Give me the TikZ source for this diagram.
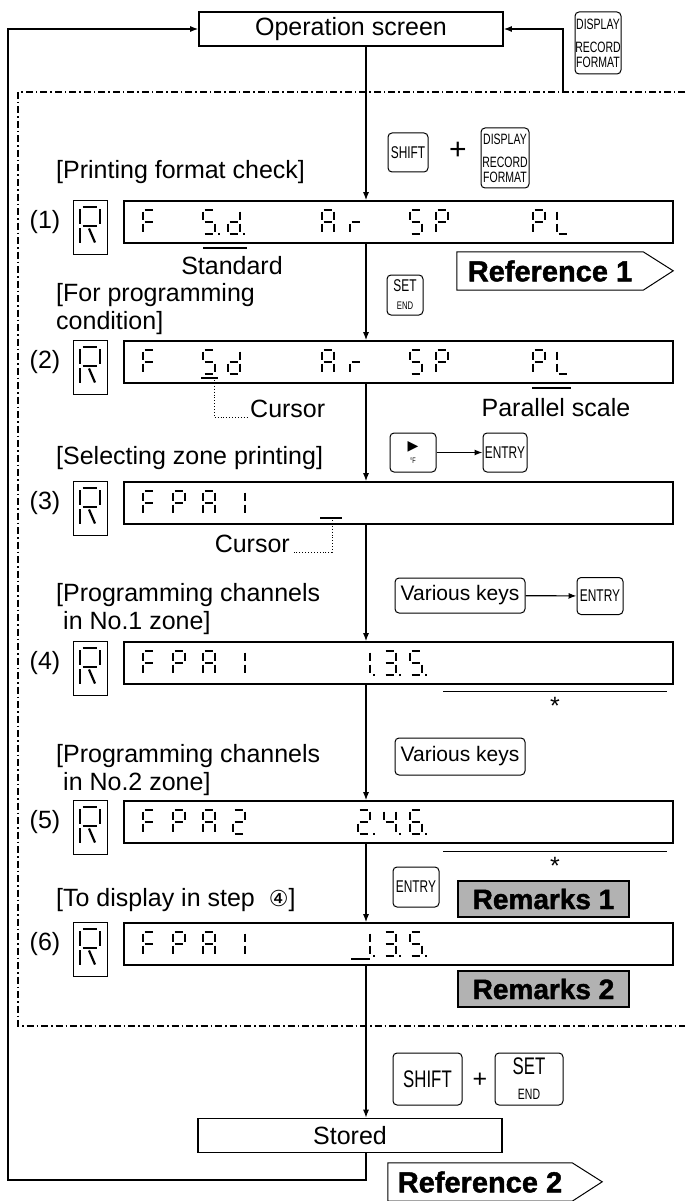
\documentclass[tikz,border=0pt]{standalone}
\usepackage{fontspec}
\setmainfont{Liberation Sans}[BoldFeatures={FakeBold=1.5}]
\newfontfamily\keyfont{Liberation Sans}[FakeStretch=0.7]
\newfontfamily\symfont{DejaVu Sans}
\usetikzlibrary{arrows.meta,positioning}
\definecolor{RemGray}{HTML}{B2B2B2}

% seven segment pieces, cell 10 x 20
\tikzset{segline/.style={line width=2.2pt},
  seg a/.pic={\draw[segline] (1.3,0)--(8.7,0);},
  seg b/.pic={\draw[segline] (10,1.3)--(10,8.7);},
  seg c/.pic={\draw[segline] (10,11.3)--(10,18.7);},
  seg d/.pic={\draw[segline] (1.3,20)--(8.7,20);},
  seg e/.pic={\draw[segline] (0,11.3)--(0,18.7);},
  seg f/.pic={\draw[segline] (0,1.3)--(0,8.7);},
  seg g/.pic={\draw[segline] (1.3,10)--(8.7,10);},
  seg k/.pic={\draw[segline] (4.5,11.3)--(7.5,18.7);},
  seg p/.pic={\fill (12.2,18.8) rectangle (14.2,20.6);}}
\newcommand{\lcdF}{a,f,g,e}
\newcommand{\lcdS}{a,f,g,c,d}
\newcommand{\lcdd}{b,c,d,e,g}
\newcommand{\lcdA}{a,b,c,e,f,g}
\newcommand{\lcdr}{e,g}
\newcommand{\lcdP}{a,b,f,g,e}
\newcommand{\lcdL}{f,e,d}
\newcommand{\lcdone}{b,c}
\newcommand{\lcdtwo}{a,b,g,e,d}
\newcommand{\lcdthree}{a,b,g,c,d}
\newcommand{\lcdfour}{f,g,b,c}
\newcommand{\lcdsix}{a,f,g,e,c,d}
\newcommand{\lcdR}{a,b,f,g,e,k}
\newcommand{\lcd}[4][scale=1.2]{\edef\lcdlist{#4}\foreach \s in \lcdlist {\pic[#1] at (#2,#3) {seg \s};}}

\begin{document}
\begin{tikzpicture}[x=1pt,y=-1pt,font=\fontsize{25}{28}\selectfont,
a/.style={-{Latex[length=8pt,width=6pt]},line width=1.2pt},
scrbox/.style={draw,line width=1.6pt,minimum width=304pt,minimum height=34pt},
panel/.style={draw,line width=1.6pt,minimum width=549pt,minimum height=42pt,inner sep=0pt},
rbox/.style={draw,line width=1pt,minimum width=34pt,minimum height=54pt,inner sep=0pt},
key/.style={draw,rounded corners=4pt,line width=1pt,inner sep=0pt,align=center,font=\keyfont\fontsize{15}{15}\selectfont},
lbl/.style={anchor=west,inner sep=0pt,align=left},
lead/.style={dotted,line width=0.9pt},
bar/.style={line width=1.6pt},
rem/.style={draw,line width=1.4pt,fill=RemGray,minimum width=171pt,minimum height=36pt,font=\bfseries\fontsize{28}{28}\selectfont},
reftext/.style={inner sep=0pt,minimum height=38pt,font=\bfseries\fontsize{29}{29}\selectfont},
dashframe/.style={line width=1.2pt,dash pattern=on 7pt off 3pt on 1.5pt off 3pt}]
\useasboundingbox (0,0) rectangle (685,1201);

% frame of the setting steps
\draw[dashframe] (685,92) -- (18,92) -- (18,1026) -- (685,1026);

\node[scrbox] (opscr) at (351,29) {Operation screen};
\node[key,minimum width=46pt,minimum height=62pt,font=\keyfont\fontsize{15}{15}\selectfont] (disp1) at (598,43) {DISPLAY\\[8pt]RECORD\\FORMAT};
\coordinate (esc) at (563,92);
\coordinate (mid) at (366,0);
\coordinate (loop) at (8,1180);

% keys
\node[key,minimum width=40pt,minimum height=39pt,font=\keyfont\fontsize{17}{17}\selectfont] (shift1) at (408,152.5) {SHIFT};
\node[font=\fontsize{30}{30}\selectfont] (plus1) at (458,151) {+};
\node[key,minimum width=48pt,minimum height=60pt] (disp2) at (505,158) {DISPLAY\\[8pt]RECORD\\FORMAT};
\node[key,minimum width=36pt,minimum height=40pt,font=\keyfont\fontsize{17}{17}\selectfont] (set1) at (405,295) {SET\\[1pt]{\fontsize{11}{11}\selectfont END}};
\node[key,minimum width=46pt,minimum height=39pt] (fkey) at (413,452.5) {{\symfont\fontsize{14}{14}\selectfont ▶}\\[-2pt]{\fontsize{8}{8}\selectfont °F}};
\node[key,minimum width=44pt,minimum height=39pt,font=\keyfont\fontsize{17}{17}\selectfont] (ent1) at (505,452.5) {ENTRY};
\node[key,minimum width=130pt,minimum height=35pt,font=\fontsize{21}{21}\selectfont] (var1) at (460,595.5) {Various keys};
\node[key,minimum width=46pt,minimum height=37pt,font=\keyfont\fontsize{17}{17}\selectfont] (ent2) at (600,596) {ENTRY};
\node[key,minimum width=130pt,minimum height=37pt,font=\fontsize{21}{21}\selectfont] (var2) at (460,756.5) {Various keys};
\node[key,minimum width=46pt,minimum height=40pt,font=\keyfont\fontsize{17}{17}\selectfont] (ent3) at (416,887) {ENTRY};
\node[key,minimum width=69pt,minimum height=52pt,font=\keyfont\fontsize{24}{24}\selectfont] (shift2) at (427.5,1079) {SHIFT};
\node (plus2) at (480,1080) {+};
\node[key,minimum width=68pt,minimum height=52pt,font=\keyfont\fontsize{24}{24}\selectfont] (set2) at (529,1079) {SET\\[1pt]{\fontsize{15}{15}\selectfont END}};
\draw[a] (fkey) -- (ent1);
\draw[a] (var1) -- (ent2);

% step labels
\node[lbl] (t1) at (56,172) {[Printing format check]};
\node[lbl] (t2) at (56,309) {[For programming\\condition]};
\node[lbl] (t3) at (56,458) {[Selecting zone printing]};
\node[lbl] (t4) at (56,609) {[Programming channels\\\hspace*{7pt}in No.1 zone]};
\node[lbl] (t5) at (56,770) {[Programming channels\\\hspace*{7pt}in No.2 zone]};
\node[lbl] (t6) at (56,900) {[To display in step \ {\symfont\fontsize{22}{22}\selectfont ④}]};

% displays
\foreach \n/\y in {1/222,2/362,3/503,4/663,5/822,6/944} {
  \node[panel] (p\n) at (398.5,\y) {};
  \node[rbox] (r\n) at (90,\y+5) {};
  \node (n\n) at (45,\y) {(\n)};
  \lcd[xscale=2.0,yscale=1.9]{80}{\y-15}{\lcdR}
}
\foreach \x/\c in {143/\lcdF,203/{\lcdS,p},228/{\lcdd,p},322/\lcdA,350/\lcdr,410/\lcdS,436/\lcdP,533/\lcdP,557/\lcdL} {\lcd{\x}{210}{\c}}
\foreach \x/\c in {143/\lcdF,203/\lcdS,228/\lcdd,322/\lcdA,350/\lcdr,410/\lcdS,436/\lcdP,533/\lcdP,557/\lcdL} {\lcd{\x}{350}{\c}}
\foreach \x/\c in {143/\lcdF,173/\lcdP,203/\lcdA,233/\lcdone} {\lcd{\x}{491}{\c}}
\foreach \x/\c in {143/\lcdF,173/\lcdP,203/\lcdA,233/\lcdone,358/{\lcdone,p},384/{\lcdthree,p},410/{\lcdS,p}} {\lcd{\x}{651}{\c}}
\foreach \x/\c in {143/\lcdF,173/\lcdP,203/\lcdA,233/\lcdtwo,358/{\lcdtwo,p},384/{\lcdfour,p},410/{\lcdsix,p}} {\lcd{\x}{810}{\c}}
\foreach \x/\c in {143/\lcdF,173/\lcdP,203/\lcdA,233/\lcdone,358/{\lcdone,p},384/{\lcdthree,p},410/{\lcdS,p}} {\lcd{\x}{932}{\c}}

% marks under the displays
\draw[bar] (203,248) -- (247,248);
\node (std) at (232,266) {Standard};
\draw[bar] (201,378) -- (218,378);
\coordinate (cursa) at (214,380);
\node[anchor=base west,inner sep=0pt] (cur1) at (250,417) {Cursor};
\draw[lead] (cursa) |- ([xshift=-3pt]cur1.base west);
\draw[bar] (532,388) -- (571,388);
\node (par) at (556,408) {Parallel scale};
\draw[bar] (320,518) -- (342,518);
\coordinate (cursb) at (332,520);
\node[anchor=base east,inner sep=0pt] (cur2) at (290,552) {Cursor};
\draw[lead] (cursb) |- ([xshift=4pt]cur2.base east);
\draw[bar] (351,959) -- (370,959);
\draw[line width=1pt] (443,691) -- (667,691);
\node (ast1) at (555,706) {*};
\draw[line width=1pt] (443,851) -- (667,851);
\node (ast2) at (555,866) {*};

% reference arrows and remarks
\node[reftext,minimum width=186pt] (ref1) at (550,271) {Reference 1};
\draw[line width=1pt] (ref1.north west) -- (ref1.north east) -- ++(30,19) -- (ref1.south east) -- (ref1.south west) -- cycle;
\node[rem] (rem1) at (543.5,899) {Remarks 1};
\node[rem] (rem2) at (543.5,989) {Remarks 2};
\node[scrbox] (stored) at (350,1135.5) {Stored};
\node[reftext,minimum width=184pt] (ref2) at (480,1182) {Reference 2};
\draw[line width=1pt] (ref2.north west) -- (ref2.north east) -- ++(30,19) -- (ref2.south east) -- (ref2.south west) -- cycle;

% flow
\draw[a] (opscr.south -| mid) -- (p1.north -| mid);
\draw[a] (p1.south -| mid) -- (p2.north -| mid);
\draw[a] (p2.south -| mid) -- (p3.north -| mid);
\draw[a] (p3.south -| mid) -- (p4.north -| mid);
\draw[a] (p4.south -| mid) -- (p5.north -| mid);
\draw[a] (p5.south -| mid) -- (p6.north -| mid);
\draw[a] (p6.south -| mid) -- (stored.north -| mid);
\draw[a] (stored.south -| mid) |- (loop) |- (opscr.west);
\draw[a] (esc) |- (opscr.east);
\end{tikzpicture}
\end{document}
